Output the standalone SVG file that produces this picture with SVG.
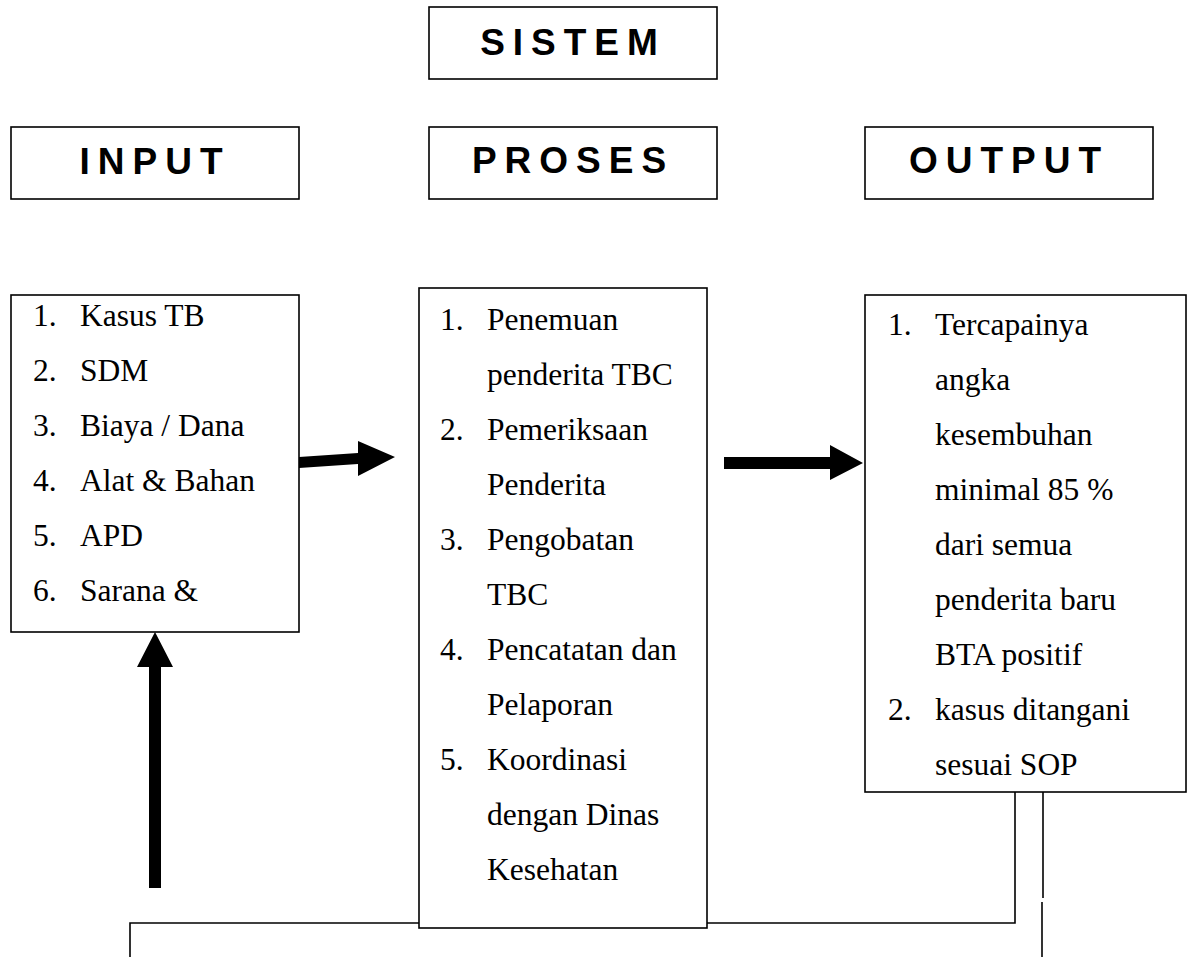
<svg xmlns="http://www.w3.org/2000/svg" width="1188" height="957" viewBox="0 0 1188 957">
<style>
.box{fill:#fff;stroke:#000;stroke-width:1.6}
.hd{font-family:"Liberation Sans",Arial,sans-serif;font-weight:bold;font-size:37px;letter-spacing:8px;text-anchor:middle;fill:#000}
.li{font-family:"Liberation Serif","Times New Roman",serif;font-size:31.5px;fill:#000}
.ln{fill:none;stroke:#000;stroke-width:1.6}
.ar{fill:#000;stroke:none}
</style>
<rect width="1188" height="957" fill="#fff"/>
<g id="connectors">
<polyline class="ln" points="1015,792 1015,923 130,923 130,957"/>
<line class="ln" x1="1043" y1="792" x2="1043" y2="898" stroke-width="2"/>
<line class="ln" x1="1042" y1="902" x2="1042" y2="957" stroke-width="2"/>
<polygon class="ar" points="299,457 358,453 358,441 395,457 358,476 358,464 299,468"/>
<polygon class="ar" points="724,457 830,457 830,445 863,463 830,480 830,469 724,469"/>
<polygon class="ar" points="149,888 149,667 137,667 155,632 173,667 161,667 161,888"/>
</g>
<g id="sistem">
<rect class="box" x="429" y="7" width="288" height="72"/>
<text class="hd" x="573" y="55">SISTEM</text>
</g>
<g id="input-header">
<rect class="box" x="11" y="127" width="288" height="72"/>
<text class="hd" x="155" y="174">INPUT</text>
</g>
<g id="proses-header">
<rect class="box" x="429" y="127" width="288" height="72"/>
<text class="hd" x="573" y="173">PROSES</text>
</g>
<g id="output-header">
<rect class="box" x="865" y="127" width="288" height="72"/>
<text class="hd" x="1009" y="173">OUTPUT</text>
</g>
<g id="input-list">
<rect class="box" x="11" y="295" width="288" height="337"/>
<text class="li" x="33" y="326">1.</text><text class="li" x="80" y="326">Kasus TB</text>
<text class="li" x="33" y="381">2.</text><text class="li" x="80" y="381">SDM</text>
<text class="li" x="33" y="436">3.</text><text class="li" x="80" y="436">Biaya / Dana</text>
<text class="li" x="33" y="491">4.</text><text class="li" x="80" y="491">Alat &amp; Bahan</text>
<text class="li" x="33" y="546">5.</text><text class="li" x="80" y="546">APD</text>
<text class="li" x="33" y="601">6.</text><text class="li" x="80" y="601">Sarana &amp;</text>
</g>
<g id="proses-list">
<rect class="box" x="419" y="288" width="288" height="640"/>
<text class="li" x="440" y="330">1.</text><text class="li" x="487" y="330">Penemuan</text>
<text class="li" x="487" y="385">penderita TBC</text>
<text class="li" x="440" y="440">2.</text><text class="li" x="487" y="440">Pemeriksaan</text>
<text class="li" x="487" y="495">Penderita</text>
<text class="li" x="440" y="550">3.</text><text class="li" x="487" y="550">Pengobatan</text>
<text class="li" x="487" y="605">TBC</text>
<text class="li" x="440" y="660">4.</text><text class="li" x="487" y="660">Pencatatan dan</text>
<text class="li" x="487" y="715">Pelaporan</text>
<text class="li" x="440" y="770">5.</text><text class="li" x="487" y="770">Koordinasi</text>
<text class="li" x="487" y="825">dengan Dinas</text>
<text class="li" x="487" y="880">Kesehatan</text>
</g>
<g id="output-list">
<rect class="box" x="865" y="295" width="321" height="497"/>
<text class="li" x="888" y="335">1.</text><text class="li" x="935" y="335">Tercapainya</text>
<text class="li" x="935" y="390">angka</text>
<text class="li" x="935" y="445">kesembuhan</text>
<text class="li" x="935" y="500">minimal 85 %</text>
<text class="li" x="935" y="555">dari semua</text>
<text class="li" x="935" y="610">penderita baru</text>
<text class="li" x="935" y="665">BTA positif</text>
<text class="li" x="888" y="720">2.</text><text class="li" x="935" y="720">kasus ditangani</text>
<text class="li" x="935" y="775">sesuai SOP</text>
</g>
</svg>
